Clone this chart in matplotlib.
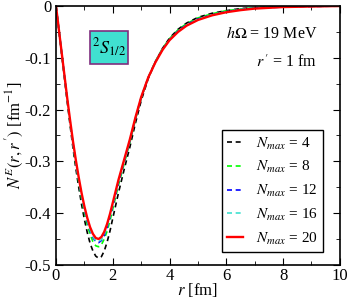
import matplotlib
matplotlib.use("Agg")
import matplotlib.pyplot as plt
from matplotlib.patches import Rectangle
from matplotlib.ticker import MultipleLocator

plt.rcParams['font.family'] = ['Liberation Serif', 'DejaVu Serif']
plt.rcParams['mathtext.fontset'] = 'stix'

# radius grid [fm]
r = [0, 0.1, 0.2, 0.3, 0.4, 0.5, 0.6, 0.7, 0.8, 0.9, 1.0, 1.1, 1.2, 1.3, 1.4, 1.5,
     1.6, 1.7, 1.8, 1.9, 2.0, 2.2, 2.4, 2.6, 2.8, 3.0, 3.25, 3.5, 3.75, 4.0,
     4.3, 4.6, 5.0, 5.5, 6.0, 6.5, 7.0, 8.0, 9.0, 10.0]

n4 = [0, -0.046, -0.093, -0.140, -0.187, -0.232, -0.275, -0.314, -0.350, -0.383,
      -0.412, -0.437, -0.458, -0.473, -0.483, -0.487, -0.484, -0.473, -0.456, -0.435,
      -0.410, -0.361, -0.316, -0.273, -0.226, -0.183, -0.140, -0.108, -0.082, -0.062,
      -0.045, -0.033, -0.022, -0.014, -0.009, -0.005, -0.003, -0.001, 0, 0]
n8 = [0, -0.045, -0.091, -0.137, -0.183, -0.227, -0.268, -0.306, -0.340, -0.372,
      -0.399, -0.422, -0.441, -0.455, -0.463, -0.465, -0.461, -0.450, -0.435, -0.415,
      -0.392, -0.346, -0.305, -0.264, -0.219, -0.178, -0.138, -0.107, -0.082, -0.063,
      -0.046, -0.034, -0.023, -0.015, -0.009, -0.006, -0.003, -0.001, 0, 0]
n12 = [0, -0.045, -0.090, -0.136, -0.182, -0.225, -0.266, -0.303, -0.336, -0.367,
       -0.394, -0.416, -0.434, -0.447, -0.455, -0.457, -0.453, -0.443, -0.428, -0.408,
       -0.386, -0.341, -0.301, -0.261, -0.217, -0.177, -0.138, -0.108, -0.084, -0.065,
       -0.048, -0.036, -0.025, -0.017, -0.011, -0.007, -0.004, -0.002, -0.001, 0]
n16 = [0, -0.045, -0.090, -0.136, -0.181, -0.224, -0.265, -0.302, -0.335, -0.365,
       -0.392, -0.414, -0.432, -0.445, -0.453, -0.455, -0.451, -0.441, -0.426, -0.406,
       -0.384, -0.339, -0.299, -0.260, -0.216, -0.177, -0.138, -0.108, -0.084, -0.065,
       -0.049, -0.037, -0.026, -0.017, -0.011, -0.007, -0.004, -0.002, -0.001, 0]
n20 = [0, -0.045, -0.090, -0.135, -0.180, -0.222, -0.262, -0.298, -0.331, -0.361,
       -0.387, -0.409, -0.427, -0.440, -0.448, -0.450, -0.446, -0.436, -0.421, -0.402,
       -0.380, -0.336, -0.297, -0.258, -0.215, -0.176, -0.138, -0.109, -0.085, -0.066,
       -0.050, -0.038, -0.027, -0.018, -0.012, -0.008, -0.005, -0.002, -0.001, 0]

fig = plt.figure(figsize=(3.5, 3.0), dpi=100)
ax = fig.add_axes([0.16, 0.117, 0.811, 0.863])

dash = (0, (3, 2.2))
ax.plot(r, n4, color='black', lw=1.2, ls=dash, label=r'$N_{max}$ = 4')
ax.plot(r, n8, color='#00ff00', lw=1.2, ls=dash, label=r'$N_{max}$ = 8')
ax.plot(r, n12, color='#0000ff', lw=1.2, ls=dash, label=r'$N_{max}$ = 12')
ax.plot(r, n16, color='#40e0d0', lw=1.2, ls=dash, label=r'$N_{max}$ = 16')
ax.plot(r, n20, color='red', lw=1.7, label=r'$N_{max}$ = 20')

ax.set_xlim(0, 10)
ax.set_ylim(-0.5, 0)
ax.xaxis.set_major_locator(MultipleLocator(2))
ax.xaxis.set_minor_locator(MultipleLocator(1))
ax.yaxis.set_minor_locator(MultipleLocator(0.05))
ax.set_yticks([0, -0.1, -0.2, -0.3, -0.4, -0.5])
ax.set_yticklabels(['0', '-0.1', '-0.2', '-0.3', '-0.4', '-0.5'])
ax.tick_params(which='both', direction='in', top=True, right=True, labelsize=12)
ax.tick_params(which='major', length=5)
ax.tick_params(which='minor', length=3)
ax.tick_params(axis='x', pad=2)
for s in ax.spines.values():
    s.set_linewidth(1.2)

ax.set_xlabel(r'$r$ [fm]', fontsize=12, labelpad=-2)
ax.set_ylabel(r'$N^E(r,r^{\,\prime})$ [fm$^{-1}$]', fontsize=12, labelpad=-1)

ax.text(0.92, 0.89, r'$h\Omega$ = 19 MeV', transform=ax.transAxes,
        ha='right', va='center', fontsize=11.5)
ax.text(0.92, 0.78, r'$r^{\,\prime}$ = 1 fm', transform=ax.transAxes,
        ha='right', va='center', fontsize=11.5)

ax.add_patch(Rectangle((0.12, 0.776), 0.134, 0.127, transform=ax.transAxes,
                       facecolor='#40e0d0', edgecolor='#7f2f7f', lw=1.2, zorder=5))
ax.text(0.187, 0.84, r'$^2S_{1/2}$', transform=ax.transAxes, ha='center',
        va='center', fontsize=13, zorder=6)

leg = ax.legend(loc='lower right', bbox_to_anchor=(0.94, 0.05), fontsize=11,
                fancybox=False, framealpha=1, edgecolor='black', handlelength=1.0,
                labelspacing=0.5, borderpad=0.35, handletextpad=0.85,
                borderaxespad=0)
leg.get_frame().set_linewidth(1.0)

fig.savefig('out.png', dpi=100)
